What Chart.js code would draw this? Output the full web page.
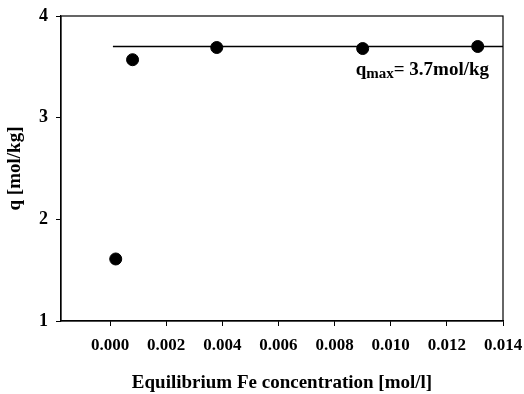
<!DOCTYPE html>
<html>
<head>
<meta charset="utf-8">
<script src="https://cdn.jsdelivr.net/npm/chart.js@4/dist/chart.umd.min.js"></script>
<style>
  html, body { margin: 0; padding: 0; background: #fff; }
  #wrap { width: 524px; height: 394px; }
</style>
</head>
<body>
<div id="wrap"><canvas id="c" width="524" height="394"></canvas></div>
<script>
// Equilibrium Fe concentration (mol/l) and loading q (mol/kg)
const feConc = [0.0002, 0.0008, 0.0038, 0.0090, 0.0131];
const qValues = [1.61, 3.57, 3.69, 3.68, 3.70];

// Plateau (saturation capacity)
const qMax = 3.7;
const plateauX = [0.0001, 0.014];

const xTicks = [0.000, 0.002, 0.004, 0.006, 0.008, 0.010, 0.012, 0.014];
const yTicks = [1, 2, 3, 4];

const xTitle = 'Equilibrium Fe concentration [mol/l]';
const yTitle = 'q [mol/kg]';
const noteMain = 'q';
const noteSub = 'max';
const noteRest = '= 3.7mol/kg';
const notePos = { x: 0.00875, y: 3.42 };

const FONT = '"Liberation Serif", "Times New Roman", serif';

const frame = {
  id: 'frame',
  afterDraw(chart) {
    const { ctx, chartArea: a, scales } = chart;
    ctx.save();
    ctx.strokeStyle = '#000';
    ctx.lineWidth = 1.2;
    ctx.strokeRect(a.left, a.top, a.right - a.left, a.bottom - a.top);

    // q_max annotation
    const px = scales.x.getPixelForValue(notePos.x);
    const py = scales.y.getPixelForValue(notePos.y);
    ctx.fillStyle = '#000';
    ctx.textBaseline = 'alphabetic';
    ctx.font = 'bold 19px ' + FONT;
    ctx.fillText(noteMain, px, py);
    let w = ctx.measureText(noteMain).width;
    ctx.font = 'bold 15px ' + FONT;
    ctx.fillText(noteSub, px + w, py + 3);
    w += ctx.measureText(noteSub).width;
    ctx.font = 'bold 19px ' + FONT;
    ctx.fillText(noteRest, px + w, py);
    ctx.restore();
  }
};

const chart = new Chart(document.getElementById('c'), {
  type: 'scatter',
  data: {
    datasets: [
      {
        label: 'q',
        data: feConc.map((x, i) => ({ x, y: qValues[i] })),
        backgroundColor: '#000',
        borderColor: '#000',
        pointRadius: 6,
        pointHoverRadius: 6,
        clip: false,
        order: 1
      },
      {
        label: 'qmax',
        type: 'line',
        data: plateauX.map(x => ({ x, y: qMax })),
        borderColor: '#000',
        borderWidth: 1.6,
        pointRadius: 0,
        fill: false,
        order: 2
      }
    ]
  },
  options: {
    responsive: false,
    animation: false,
    events: [],
    layout: { autoPadding: false, padding: { top: 16, right: 21, left: 0, bottom: 0 } },
    plugins: { legend: { display: false }, tooltip: { enabled: false } },
    scales: {
      x: {
        type: 'linear',
        min: -0.00175,
        max: 0.014,
        afterBuildTicks: s => { s.ticks = xTicks.map(v => ({ value: v })); },
        afterFit: s => { s.height = 73; s.paddingLeft = 0; s.paddingRight = 0; },
        grid: { drawOnChartArea: false, drawTicks: true, tickLength: 5, color: '#000' },
        border: { color: '#000', width: 1.2 },
        ticks: {
          color: '#000',
          padding: 9,
          maxRotation: 0,
          autoSkip: false,
          font: { family: FONT, size: 17, weight: 'bold' },
          callback: v => v.toFixed(3)
        },
        title: {
          display: true,
          text: xTitle,
          color: '#000',
          padding: { top: 6, bottom: 0 },
          font: { family: FONT, size: 19, weight: 'bold' }
        }
      },
      y: {
        type: 'linear',
        min: 1,
        max: 4,
        afterBuildTicks: s => { s.ticks = yTicks.map(v => ({ value: v })); },
        afterFit: s => { s.width = 61; s.paddingTop = 0; s.paddingBottom = 0; },
        grid: { drawOnChartArea: false, drawTicks: true, tickLength: 5, color: '#000' },
        border: { color: '#000', width: 1.2 },
        ticks: {
          color: '#000',
          padding: 8,
          font: { family: FONT, size: 18, weight: 'bold' },
          callback: v => String(v)
        },
        title: {
          display: true,
          text: yTitle,
          color: '#000',
          padding: { top: 4, bottom: 0 },
          font: { family: FONT, size: 19, weight: 'bold' }
        }
      }
    }
  },
  plugins: [frame]
});
</script>
</body>
</html>
